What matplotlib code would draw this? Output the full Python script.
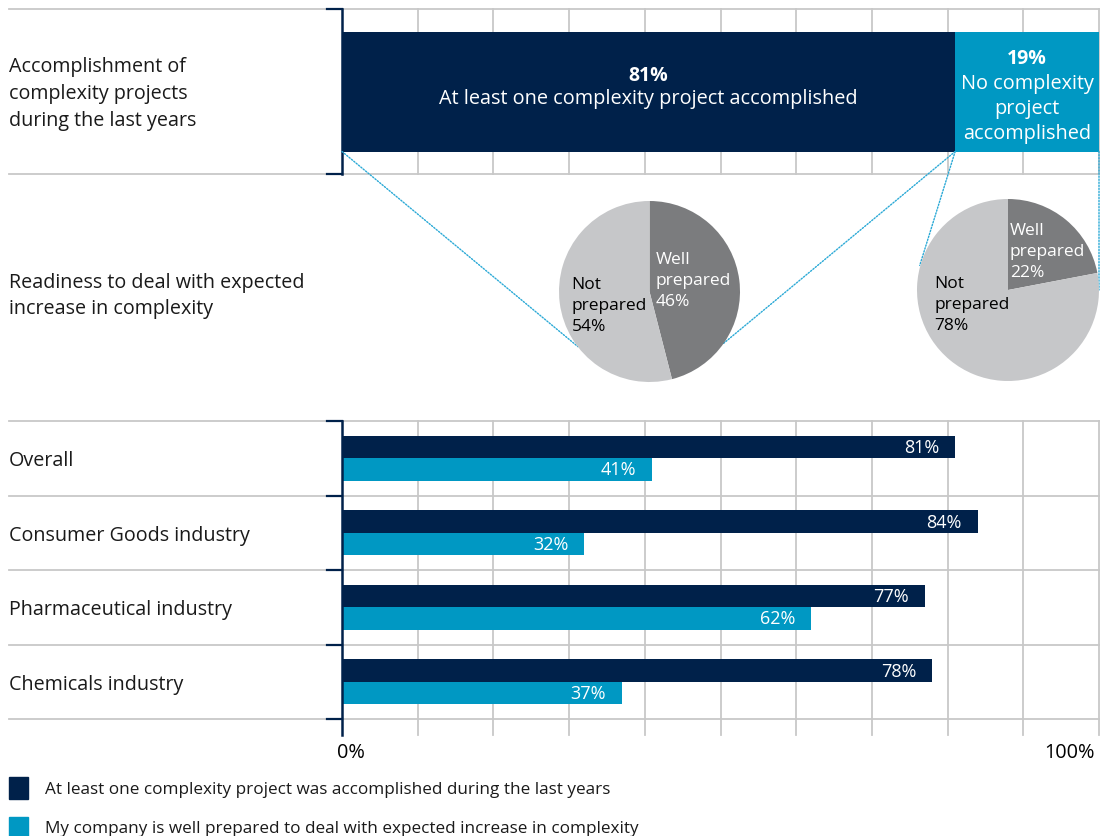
import matplotlib
matplotlib.use("Agg")
import matplotlib.pyplot as plt
from matplotlib.patches import ConnectionPatch, Rectangle

plt.rcParams['font.family'] = ['Open Sans', 'DejaVu Sans']

# data
top_share = [81, 19]
top_labels = ["At least one complexity project accomplished",
              "No complexity\nproject\naccomplished"]
pie_well = [46, 22]  # well prepared, for accomplished / not accomplished
industries = ["Overall", "Consumer Goods industry", "Pharmaceutical industry", "Chemicals industry"]
accomplished = [81, 84, 77, 78]
well_prepared = [41, 32, 62, 37]
legend_labels = ["At least one complexity project was accomplished during the last years",
                 "My company is well prepared to deal with expected increase in complexity"]

NAVY = "#00214a"
BLUE = "#0098c3"
GRID = "#c8c8c8"
DARK_GREY = "#7b7c7e"
LIGHT_GREY = "#c6c7c9"
DOTS = "#2aa9d6"

W, H = 1106, 837
fig = plt.figure(figsize=(W / 100, H / 100), dpi=100)


def px_axes(x0, y0, x1, y1):
    return fig.add_axes([x0 / W, 1 - y1 / H, (x1 - x0) / W, (y1 - y0) / H])


LEFT_EXT = -(342 - 9) / 757
TICK = -15 / 757


def frame(ax, y_edges, below=0.0):
    ax.set_xlim(0, 100)
    ax.set_axis_off()
    xt = ax.get_xaxis_transform()
    yt = ax.get_yaxis_transform()
    for x in range(10, 101, 10):
        ax.plot([x, x], [-below, 1], color=GRID, lw=1.3, transform=xt, clip_on=False, zorder=0)
    for y in y_edges:
        ax.plot([LEFT_EXT, 1], [y, y], color=GRID, lw=1.3, transform=yt, clip_on=False, zorder=0)
        ax.plot([TICK, 0], [y, y], color=NAVY, lw=1.6, transform=yt, clip_on=False, zorder=3)
    ax.plot([0, 0], [-below, 1], color=NAVY, lw=1.8, transform=xt, clip_on=False, zorder=3)


# top stacked bar
ax_top = px_axes(342, 10, 1099, 175)
ax_top.set_ylim(-0.5, 0.5)
frame(ax_top, [-0.5, 0.5])
bar_h = 120 / 165
ax_top.barh(0, top_share[0], height=bar_h, color=NAVY, zorder=2)
ax_top.barh(0, top_share[1], left=top_share[0], height=bar_h, color=BLUE, zorder=2)
ax_top.text(top_share[0] / 2, 0.1, f"{top_share[0]}%", color="white", fontsize=14,
            fontweight="bold", ha="center", va="center")
ax_top.text(top_share[0] / 2, -0.04, top_labels[0], color="white", fontsize=14.3,
            ha="center", va="center")
ax_top.text(top_share[0] + top_share[1] / 2, 0.2, f"{top_share[1]}%", color="white", fontsize=14,
            fontweight="bold", ha="center", va="center")
ax_top.text(top_share[0] + top_share[1] / 2, -0.1, top_labels[1], color="white", fontsize=14.3,
            ha="center", va="center", linespacing=1.3)

# pies
pie_boxes = [(559, 202, 740, 383), (917, 200, 1099, 382)]
pie_axes = []
for box, well in zip(pie_boxes, pie_well):
    ax = px_axes(*box)
    ax.pie([well, 100 - well], colors=[DARK_GREY, LIGHT_GREY], startangle=90,
           counterclock=False, radius=1, wedgeprops=dict(linewidth=0))
    ax.set_xlim(-1, 1)
    ax.set_ylim(-1, 1)
    ax.set_aspect("equal")
    ax.set_zorder(5)
    pie_axes.append(ax)

pie_kw = dict(fontsize=12.5, ha="left", va="center", linespacing=1.42)
pie_axes[0].text(0.07, 0.13, f"Well\nprepared\n{pie_well[0]}%", color="white", **pie_kw)
pie_axes[0].text(-0.86, -0.15, f"Not\nprepared\n{100 - pie_well[0]}%", color="black", **pie_kw)
pie_axes[1].text(0.02, 0.43, f"Well\nprepared\n{pie_well[1]}%", color="white", **pie_kw)
pie_axes[1].text(-0.81, -0.15, f"Not\nprepared\n{100 - pie_well[1]}%", color="black", **pie_kw)

# dotted connectors from the bar segments to the pies
bar_bottom = -bar_h / 2
connectors = [
    ((0, bar_bottom), pie_axes[0], (-0.79, -0.61)),
    ((top_share[0], bar_bottom), pie_axes[0], (0.81, -0.58)),
    ((top_share[0], bar_bottom), pie_axes[1], (-0.97, 0.27)),
    ((100, bar_bottom), pie_axes[1], (1.0, 0.0)),
]
for xy_a, pax, xy_b in connectors:
    con = ConnectionPatch(xyA=xy_a, coordsA=ax_top.transData, xyB=xy_b, coordsB=pax.transData,
                          color=DOTS, lw=1.0, linestyle=(0, (1, 1.2)), zorder=1)
    fig.add_artist(con)

# grouped bars per industry
ax_bot = px_axes(342, 422, 1099, 720)
ax_bot.set_ylim(len(industries), 0)
frame(ax_bot, list(range(len(industries) + 1)), below=16 / 298)
rows = range(len(industries))
bh = 0.3
ax_bot.barh([r + 0.5 - bh / 2 for r in rows], accomplished, height=bh, color=NAVY, zorder=2)
ax_bot.barh([r + 0.5 + bh / 2 for r in rows], well_prepared, height=bh, color=BLUE, zorder=2)
for r in rows:
    ax_bot.text(accomplished[r] - 2.1, r + 0.5 - bh / 2, f"{accomplished[r]}%", color="white",
                fontsize=13, ha="right", va="center")
    ax_bot.text(well_prepared[r] - 2.1, r + 0.5 + bh / 2, f"{well_prepared[r]}%", color="white",
                fontsize=13, ha="right", va="center")
ax_bot.text(-0.6, -0.11, "0%", fontsize=14.3, ha="left", va="center",
            transform=ax_bot.get_xaxis_transform())
ax_bot.text(99.4, -0.11, "100%", fontsize=14.3, ha="right", va="center",
            transform=ax_bot.get_xaxis_transform())

# row labels on the left
label_kw = dict(fontsize=14.2, ha="left", va="center", color="#1a1a1a", linespacing=1.45)
fig.text(9 / W, 1 - 94 / H, "Accomplishment of\ncomplexity projects\nduring the last years", **label_kw)
fig.text(9 / W, 1 - 296 / H, "Readiness to deal with expected\nincrease in complexity", **label_kw)
for r, name in enumerate(industries):
    fig.text(9 / W, 1 - (424 + 74.5 * (r + 0.5)) / H, name, **label_kw)

# legend
for (y0, y1, ty), color, text in zip([(778, 800, 790), (818, 840, 829)], [NAVY, BLUE], legend_labels):
    fig.add_artist(Rectangle((9 / W, 1 - y1 / H), 19 / W, (y1 - y0) / H, color=color,
                             transform=fig.transFigure))
    fig.text(45 / W, 1 - ty / H, text, fontsize=12.3, ha="left", va="center", color="#1a1a1a")

fig.savefig("out.png", dpi=100)
